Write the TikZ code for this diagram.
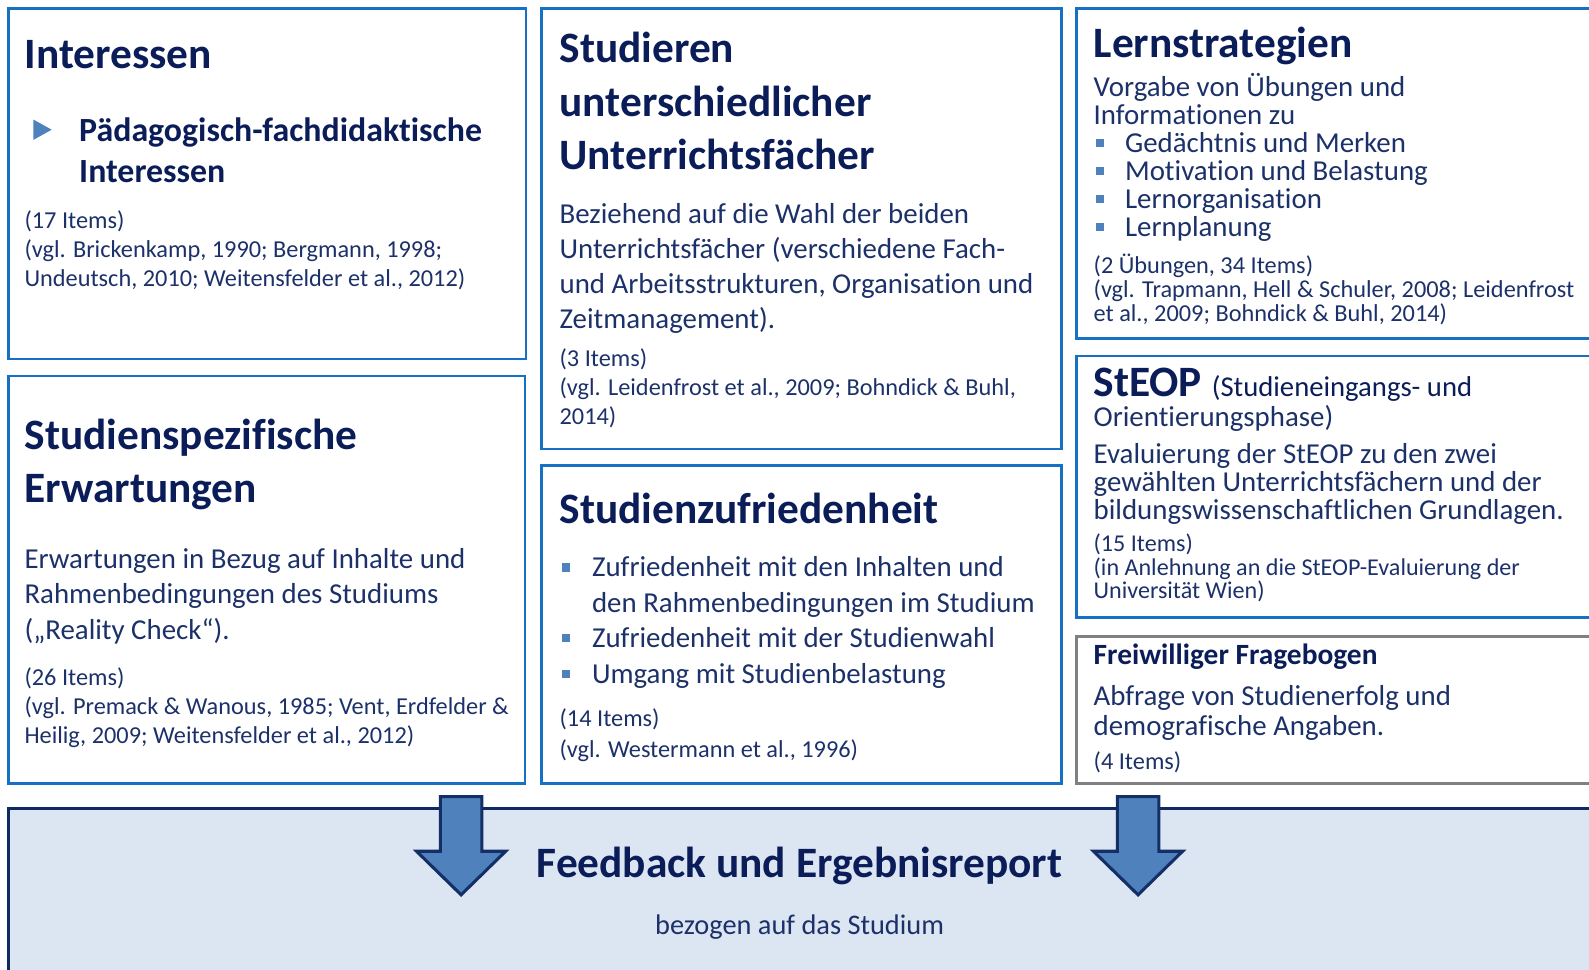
\documentclass[tikz,border=0pt]{standalone}
\usepackage{fontspec}
\setmainfont{Carlito}[RawFeature={-liga;-clig;-calt;-dlig;-rlig}]
\usetikzlibrary{positioning}
\definecolor{boxblue}{HTML}{1670C4}
\definecolor{titlenavy}{HTML}{0B1D59}
\definecolor{textnavy}{HTML}{1C3169}
\definecolor{bulletblue}{HTML}{4F81BD}
\definecolor{bandfill}{HTML}{DCE6F2}
\definecolor{banddark}{HTML}{0F2A63}
\definecolor{arrowdark}{HTML}{142E66}
\definecolor{boxgray}{HTML}{808080}
\newcommand{\sqb}{\makebox[32pt][l]{\hspace{2pt}\textcolor{bulletblue}{\raisebox{5pt}{\rule{8pt}{8pt}}}}}
\newcommand{\sqbl}{\makebox[31pt][l]{\hspace{2pt}\textcolor{bulletblue}{\raisebox{5pt}{\rule{8pt}{8pt}}}}}
\tikzset{
  every picture/.style={x=1pt, y=-1pt}}

\begin{document}
\begin{tikzpicture}[
    box/.style={draw=boxblue, line width=2.5pt, anchor=north west, inner sep=0},
    graybox/.style={box, draw=boxgray},
    heading/.style={font=\fontsize{42.8}{52.5}\selectfont\bfseries, text=titlenavy,
      anchor=base west, inner sep=0, align=left},
    subheading/.style={heading, font=\fontsize{33.4}{40}\selectfont\bfseries},
    body/.style={font=\fontsize{28.5}{35}\selectfont, text=textnavy,
      anchor=base west, inner sep=0, align=left},
    small/.style={body, font=\fontsize{24}{29}\selectfont},
    bigarrow/.style={fill=bulletblue, draw=arrowdark, line width=3pt, line join=miter}]

    \useasboundingbox (0,0) rectangle (1568,957);

    % frames
    \node[box, minimum width=511, minimum height=346] (interessen) at (7,7) {};
    \node[box, minimum width=510, minimum height=402] (erwartungen) at (7,370) {};
    \node[box, minimum width=513, minimum height=435] (faecher) at (533,7) {};
    \node[box, minimum width=513, minimum height=314] (zufriedenheit) at (533,458) {};
    \node[box, minimum width=540, minimum height=326] (lernen) at (1061,7) {};
    \node[box, minimum width=540, minimum height=258] (steop) at (1061,350) {};
    \node[graybox, minimum width=540, minimum height=145] (freiwillig) at (1061,627) {};

    % Interessen (multi-line nodes sit on their last baseline)
    \node[heading] (int-title) at (24,68) {Interessen};
    \fill[bulletblue] (33,118) -- (51,128) -- (33,138) -- cycle;
    \node[subheading] (int-sub) at (78,180) {Pädagogisch-fachdidaktische\\Interessen};
    \node[small] (int-ref) at (24,283) {(17 Items)\\(vgl. Brickenkamp, 1990; Bergmann, 1998;\\Undeutsch, 2010; Weitensfelder et al., 2012)};

    % Studienspezifische Erwartungen
    \node[heading] (erw-title) at (24,496) {Studienspezifische\\Erwartungen};
    \node[body] (erw-text) at (24,631) {Erwartungen in Bezug auf Inhalte und\\Rahmenbedingungen des Studiums\\(„Reality Check“).};
    \node[small] (erw-ref) at (24,734) {(26 Items)\\(vgl. Premack \& Wanous, 1985; Vent, Erdfelder \&\\Heilig, 2009; Weitensfelder et al., 2012)};

    % Unterrichtsfaecher
    \node[heading] (fae-title) at (552,167) {Studieren\\unterschiedlicher\\Unterrichtsfächer};
    \node[body, font=\fontsize{28.5}{34.5}\selectfont] (fae-text) at (552,324) {Beziehend auf die Wahl der beiden\\Unterrichtsfächer (verschiedene Fach-\\und Arbeitsstrukturen, Organisation und\\Zeitmanagement).};
    \node[small, font=\fontsize{24}{28.5}\selectfont] (fae-ref) at (552,419) {(3 Items)\\(vgl. Leidenfrost et al., 2009; Bohndick \& Buhl,\\2014)};

    % Studienzufriedenheit
    \node[heading] (zuf-title) at (552,517) {Studienzufriedenheit};
    \node[body] (zuf-text) at (552,674) {\sqb Zufriedenheit mit den Inhalten und\\\hspace*{32pt}den Rahmenbedingungen im Studium\\\sqb Zufriedenheit mit der Studienwahl\\\sqb Umgang mit Studienbelastung};
    \node[small, font=\fontsize{24}{30}\selectfont] (zuf-ref) at (552,747) {(14 Items)\\(vgl. Westermann et al., 1996)};

    % Lernstrategien
    \node[heading] (lern-title) at (1079,57) {Lernstrategien};
    \node[body, font=\fontsize{28.5}{27.6}\selectfont] (lern-text) at (1079,233) {Vorgabe von Übungen und\\Informationen zu\\\sqbl Gedächtnis und Merken\\\sqbl Motivation und Belastung\\\sqbl Lernorganisation\\\sqbl Lernplanung};
    \node[small, font=\fontsize{24}{23.5}\selectfont] (lern-ref) at (1079,317) {(2 Übungen, 34 Items)\\(vgl. Trapmann, Hell \& Schuler, 2008; Leidenfrost\\et al., 2009; Bohndick \& Buhl, 2014)};

    % StEOP
    \node[heading] (steop-title) at (1079,391) {StEOP {\fontsize{28.3}{30}\mdseries\selectfont(Studieneingangs- und}};
    \node[body] (steop-sub) at (1079,421) {Orientierungsphase)};
    \node[body, font=\fontsize{28.5}{28}\selectfont] (steop-text) at (1079,513) {Evaluierung der StEOP zu den zwei\\gewählten Unterrichtsfächern und der\\bildungswissenschaftlichen Grundlagen.};
    \node[small, font=\fontsize{23.8}{23.5}\selectfont] (steop-ref) at (1079,591) {(15 Items)\\(in Anlehnung an die StEOP-Evaluierung der\\Universität Wien)};

    % Freiwilliger Fragebogen
    \node[heading, font=\fontsize{29}{34}\selectfont\bfseries] (frei-title) at (1079,656) {Freiwilliger Fragebogen};
    \node[body, font=\fontsize{28.5}{30}\selectfont] (frei-text) at (1079,726) {Abfrage von Studienerfolg und\\demografische Angaben.};
    \node[small] (frei-ref) at (1079,759) {(4 Items)};

    % Feedback
    \node[anchor=north west, fill=bandfill, draw=banddark, line width=3pt,
      minimum width=1600, minimum height=200, inner sep=0] (report) at (7,796) {};
    \foreach \ax in {455,1123}
      \draw[bigarrow] (\ax-20.5,786) -- (\ax+20.5,786) -- (\ax+20.5,840) -- (\ax+44,840)
        -- (\ax,883) -- (\ax-44,840) -- (\ax-20.5,840) -- cycle;
    \node[heading, anchor=base] (rep-title) at (789,866) {Feedback und Ergebnisreport};
    \node[body, font=\fontsize{28}{34}\selectfont, anchor=base] (rep-text) at (789,922) {bezogen auf das Studium};
  \end{tikzpicture}
\end{document}
